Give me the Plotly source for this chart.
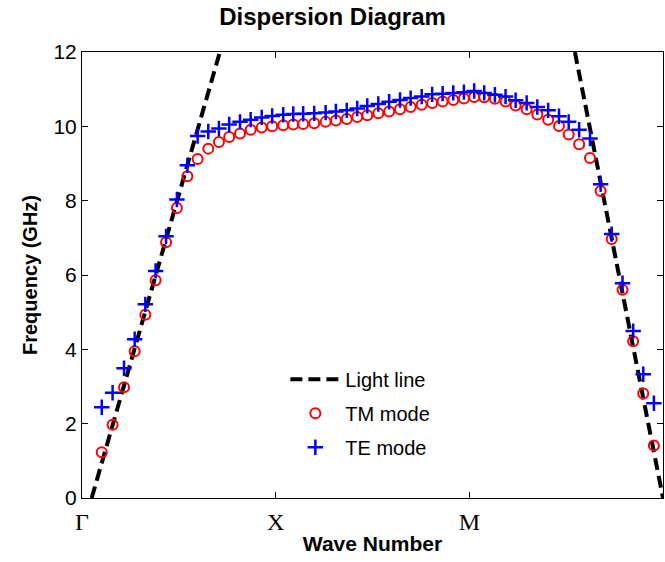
import plotly.graph_objects as go

# wave-number positions (Γ=0, X=1, M=2, Γ=3)
k = [0.102, 0.158, 0.217, 0.272, 0.327, 0.380, 0.434, 0.490, 0.544, 0.597,
     0.652, 0.707, 0.760, 0.816, 0.871, 0.928, 0.982, 1.039, 1.091, 1.142,
     1.199, 1.258, 1.311, 1.367, 1.421, 1.473, 1.530, 1.586, 1.642, 1.697,
     1.754, 1.808, 1.862, 1.917, 1.972, 2.025, 2.077, 2.132, 2.187, 2.239,
     2.296, 2.351, 2.407, 2.463, 2.513, 2.567, 2.623, 2.678, 2.735, 2.791,
     2.846, 2.898, 2.953]

tm_mode = [1.23, 1.97, 2.98, 3.95, 4.93, 5.86, 6.88, 7.80, 8.66, 9.12,
           9.40, 9.58, 9.71, 9.81, 9.91, 9.97, 10.00, 10.03, 10.05, 10.06,
           10.08, 10.12, 10.16, 10.20, 10.25, 10.30, 10.35, 10.40, 10.46, 10.52,
           10.58, 10.63, 10.67, 10.71, 10.75, 10.79, 10.78, 10.74, 10.67, 10.56,
           10.46, 10.32, 10.18, 10.01, 9.78, 9.52, 9.15, 8.26, 6.97, 5.60,
           4.22, 2.81, 1.41]

te_mode = [2.44, 2.83, 3.49, 4.27, 5.21, 6.11, 7.04, 8.03, 8.95, 9.74,
           9.86, 9.94, 10.05, 10.12, 10.18, 10.24, 10.28, 10.31, 10.33, 10.34,
           10.35, 10.37, 10.40, 10.43, 10.48, 10.55, 10.60, 10.66, 10.71, 10.76,
           10.80, 10.86, 10.88, 10.90, 10.92, 10.95, 10.90, 10.85, 10.80, 10.70,
           10.63, 10.52, 10.43, 10.27, 10.12, 9.91, 9.67, 8.44, 7.10, 5.78,
           4.49, 3.33, 2.55]

# light line (two branches, separated by None)
light_k = [0.050, 0.712, None, 2.545, 3.000]
light_f = [0.0, 12.0, None, 12.0, 0.0]

tick_pos = [0, 1, 2, 3]
tick_text = ["Γ", "X", "M", "Γ"]

fig = go.Figure()
fig.add_trace(go.Scatter(
    x=light_k, y=light_f, mode="lines", name="Light line", legendgroup="a",
    line=dict(color="black", width=4, dash="12px,6px"),
))
fig.add_trace(go.Scatter(
    x=k, y=tm_mode, mode="markers", name="TM mode", legendgroup="b",
    marker=dict(symbol="circle-open", size=10, color="red",
                line=dict(color="red", width=2)),
))
fig.add_trace(go.Scatter(
    x=k, y=te_mode, mode="markers", name="TE mode", legendgroup="c",
    marker=dict(symbol="cross-thin-open", size=11, color="blue",
                line=dict(color="blue", width=2.5)),
))

fig.update_layout(
    width=665, height=562,
    margin=dict(l=82, r=2, t=52, b=64),
    paper_bgcolor="white", plot_bgcolor="white",
    font=dict(family="Liberation Sans, Arial, sans-serif", color="black"),
    title=dict(text="<b>Dispersion Diagram</b>", x=0.5, xref="container",
               xanchor="center",
               y=0.970, yref="container", yanchor="middle",
               font=dict(size=24, color="black")),
    showlegend=True,
    legend=dict(x=0.35, y=0.31, xanchor="left", yanchor="top",
                bgcolor="rgba(0,0,0,0)", borderwidth=0,
                font=dict(size=20, color="black"),
                itemwidth=50, tracegroupgap=5),
)
fig.update_xaxes(
    range=[0, 3], tickmode="array", tickvals=tick_pos, ticktext=tick_text,
    tickfont=dict(family="Liberation Serif, Times New Roman, serif", size=24),
    ticklabelstandoff=2,
    ticks="inside", ticklen=6, tickcolor="black",
    showline=True, linecolor="black", linewidth=1, mirror="ticks",
    showgrid=False, zeroline=False,
    title=dict(text="<b>Wave Number</b>", font=dict(size=21), standoff=2),
)
fig.update_yaxes(
    range=[0, 12], tickmode="array", tickvals=[0, 2, 4, 6, 8, 10, 12],
    tickfont=dict(size=21),
    ticks="inside", ticklen=6, tickcolor="black",
    showline=True, linecolor="black", linewidth=1, mirror="ticks",
    showgrid=False, zeroline=False,
    title=dict(text="<b>Frequency (GHz)</b>", font=dict(size=20), standoff=10),
)

fig.write_html("out.html")
